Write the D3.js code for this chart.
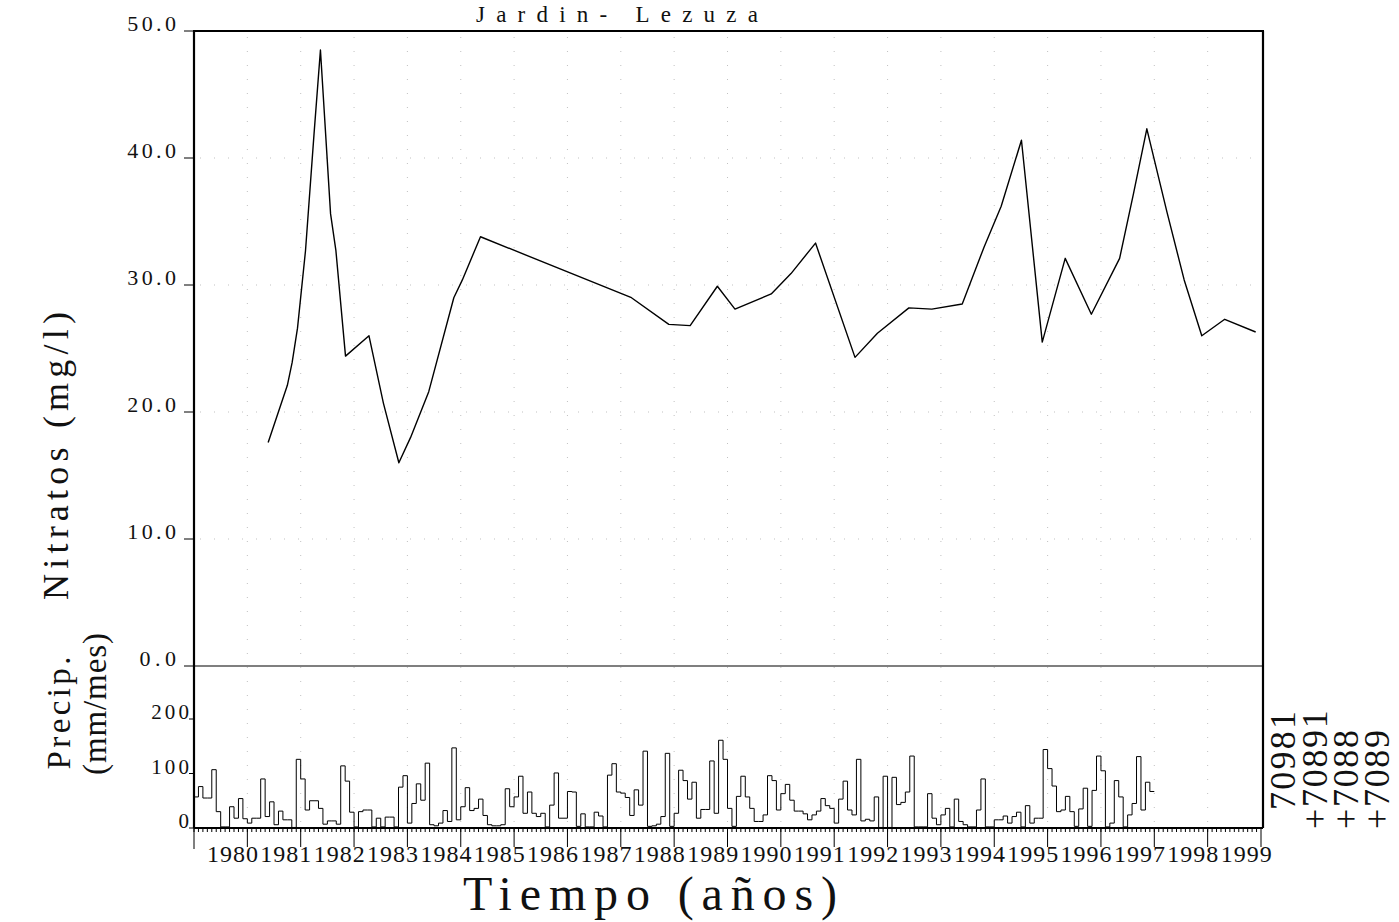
<!DOCTYPE html>
<html><head><meta charset="utf-8">
<script src="https://cdn.jsdelivr.net/npm/d3@7"></script>
<style>
body{margin:0;background:#fff}
svg{display:block}
text{font-family:"Liberation Serif","DejaVu Serif",serif;fill:#111}
</style>
</head><body>
<svg id="chart" width="1399" height="922"></svg>
<script>
// ---------- DATA ----------
const chartTitle = "Jardin- Lezuza";
const xTitle = "Tiempo (años)";
const yTitleNitrate = "Nitratos (mg/l)";
const yTitlePrecip1 = "Precip.";
const yTitlePrecip2 = "(mm/mes)";
const legendLabels = ["70981", "+70891", "+7088", "+7089"];

const yearLabels = [1980,1981,1982,1983,1984,1985,1986,1987,1988,1989,1990,1991,1992,1993,1994,1995,1996,1997,1998,1999];
const nitrateTicks = [0,10,20,30,40,50];
const precipTicks = [0,100,200];

// Nitrate samples (decimal year, mg/l)
const nitrateDates = [1981.39,1981.75,1981.84,1981.94,1982.09,1982.25,1982.37,1982.56,1982.66,1982.84,
  1983.28,1983.55,1983.84,1984.06,1984.40,1984.87,1985.03,1985.37,1988.20,1988.90,
  1989.30,1989.81,1990.14,1990.82,1991.19,1991.65,1992.39,1992.81,1993.40,1993.83,
  1994.40,1994.81,1995.13,1995.51,1995.90,1996.33,1996.82,1997.35,1997.61,1997.86,
  1998.24,1998.56,1998.89,1999.32,1999.90];
const nitrateValues = [17.6,22.1,23.9,26.6,32.7,41.9,48.5,35.6,32.7,24.4,
  26.0,20.7,16.0,18.0,21.6,29.0,30.4,33.8,29.0,26.9,
  26.8,29.9,28.1,29.3,30.9,33.3,24.3,26.2,28.2,28.1,
  28.5,33.0,36.2,41.4,25.5,32.1,27.7,32.1,37.2,42.3,
  35.7,30.4,26.0,27.3,26.3];

// Monthly precipitation (mm/mes), Jan..Dec, 1980..1997
const precip1980 = [57,76,55,55,107,30,2,2,39,18,54,17];
const precip1981 = [9,18,18,90,21,48,6,31,15,15,1,126];
const precip1982 = [90,33,50,50,36,7,13,13,7,114,86,29];
const precip1983 = [2,30,33,33,2,18,2,20,20,2,75,96];
const precip1984 = [9,45,81,51,119,6,4,9,32,12,147,15];
const precip1985 = [39,74,32,36,53,23,6,4,4,6,72,39];
const precip1986 = [57,95,27,66,27,21,27,2,42,101,18,18];
const precip1987 = [67,66,3,26,2,2,29,22,2,97,118,66];
const precip1988 = [64,56,23,70,42,141,3,4,7,21,137,3];
const precip1989 = [27,106,87,53,84,18,34,34,123,27,161,126];
const precip1990 = [36,3,58,95,57,36,12,12,24,96,87,33];
const precip1991 = [63,80,51,31,31,26,15,24,31,54,41,36];
const precip1992 = [9,53,86,33,24,126,13,16,13,57,1,95];
const precip1993 = [1,93,43,47,66,132,2,2,2,63,18,6];
const precip1994 = [24,36,2,53,12,6,2,2,33,90,2,2];
const precip1995 = [15,15,22,9,21,29,2,41,9,18,18,144];
const precip1996 = [109,77,30,33,58,30,3,35,73,3,69,132];
const precip1997 = [105,2,9,87,57,2,24,45,131,33,84,67];
const precipYears = [precip1980,precip1981,precip1982,precip1983,precip1984,precip1985,precip1986,
  precip1987,precip1988,precip1989,precip1990,precip1991,precip1992,precip1993,precip1994,
  precip1995,precip1996,precip1997];

// ---------- LAYOUT ----------
const L = 194, R = 1263, T = 31, B = 828, Z = 666;
const svg = d3.select("#chart");
const x = d3.scaleLinear().domain([1980, 2000]).range([L, 1261]);
const yN = d3.scaleLinear().domain([0, 50]).range([Z, T]);
const yP = d3.scaleLinear().domain([0, 200]).range([B, 719]);

// dotted grid
const grid = svg.append("g").attr("stroke", "#999").attr("stroke-width", 1)
  .attr("stroke-dasharray", "1,13").attr("opacity", 0.6);
d3.range(1981, 2000).forEach(yr => {
  grid.append("line").attr("x1", x(yr)).attr("x2", x(yr)).attr("y1", T + 6).attr("y2", B - 4);
});
[10, 20, 30, 40].forEach(v => {
  grid.append("line").attr("x1", L + 6).attr("x2", R - 4).attr("y1", yN(v)).attr("y2", yN(v));
});

// frame
const frame = svg.append("g").attr("stroke", "#000").attr("fill", "none");
frame.append("line").attr("x1", L - 1).attr("x2", R + 1).attr("y1", T).attr("y2", T).attr("stroke-width", 2.2);
frame.append("line").attr("x1", L).attr("x2", L).attr("y1", T).attr("y2", B).attr("stroke-width", 2.2);
frame.append("line").attr("x1", R).attr("x2", R).attr("y1", T).attr("y2", B).attr("stroke-width", 2.2);
frame.append("line").attr("x1", L).attr("x2", R).attr("y1", B).attr("y2", B).attr("stroke-width", 2.2);
frame.append("line").attr("x1", L).attr("x2", R).attr("y1", Z).attr("y2", Z).attr("stroke-width", 1.1);

// nitrate axis
const axN = svg.append("g");
nitrateTicks.forEach(v => {
  axN.append("line").attr("x1", L - 10).attr("x2", L).attr("y1", yN(v)).attr("y2", yN(v))
    .attr("stroke", "#000").attr("stroke-width", 1);
  const s = v.toFixed(1);
  axN.append("text").attr("x", 176).attr("y", yN(v)).attr("text-anchor", "end")
    .attr("font-size", 22).attr("textLength", s.length * 12.2).attr("lengthAdjust", "spacing").text(s);
});

// precip axis
const axP = svg.append("g");
precipTicks.forEach(v => {
  axP.append("line").attr("x1", L - 5).attr("x2", L).attr("y1", yP(v)).attr("y2", yP(v))
    .attr("stroke", "#000").attr("stroke-width", 1);
  const s = String(v);
  axP.append("text").attr("x", 189).attr("y", yP(v)).attr("text-anchor", "end")
    .attr("font-size", 21).attr("textLength", s.length * 12.6).attr("lengthAdjust", "spacing").text(s);
});

// x axis ticks
const axX = svg.append("g").attr("stroke", "#000");
d3.range(0, 240).forEach(m => {
  const xv = x(1980 + m / 12);
  axX.append("line").attr("x1", xv).attr("x2", xv).attr("y1", B).attr("y2", B + 4).attr("stroke-width", 1);
});
d3.range(1980, 2001).forEach(yr => {
  axX.append("line").attr("x1", x(yr)).attr("x2", x(yr)).attr("y1", B)
    .attr("y2", yr === 1980 ? B + 21 : B + 19).attr("stroke-width", 1);
});
yearLabels.forEach(yr => {
  svg.append("text").attr("x", x(yr) + 13).attr("y", 862).attr("font-size", 24)
    .attr("textLength", 51).attr("lengthAdjust", "spacing").text(yr);
});

// precipitation step line
const precipAll = precipYears.flat();
const pPts = [[1980, 0]];
precipAll.forEach((v, i) => pPts.push([1980 + i / 12, v]));
pPts.push([1980 + precipAll.length / 12, precipAll[precipAll.length - 1]]);
svg.append("path").attr("d", d3.line().x(d => x(d[0])).y(d => yP(d[1])).curve(d3.curveStepAfter)(pPts))
  .attr("fill", "none").attr("stroke", "#000").attr("stroke-width", 1);

// nitrate line
const nPts = nitrateDates.map((d, i) => [d, nitrateValues[i]]);
svg.append("path").attr("d", d3.line().x(d => x(d[0])).y(d => yN(d[1]))(nPts))
  .attr("fill", "none").attr("stroke", "#000").attr("stroke-width", 1.4).attr("stroke-linejoin", "round");

// titles
svg.append("text").attr("x", 476).attr("y", 22).attr("font-size", 23)
  .attr("textLength", 282).attr("lengthAdjust", "spacing").text(chartTitle);
svg.append("text").attr("x", 463).attr("y", 910).attr("font-size", 48)
  .attr("textLength", 374).attr("lengthAdjust", "spacing").text(xTitle);
svg.append("text").attr("transform", "translate(68,456) rotate(-90)").attr("text-anchor", "middle")
  .attr("font-size", 36).attr("textLength", 288).attr("lengthAdjust", "spacing").text(yTitleNitrate);
svg.append("text").attr("transform", "translate(70,713) rotate(-90)").attr("text-anchor", "middle")
  .attr("font-size", 33).attr("textLength", 113).attr("lengthAdjust", "spacing").text(yTitlePrecip1);
svg.append("text").attr("transform", "translate(106,704) rotate(-90)").attr("text-anchor", "middle")
  .attr("font-size", 33).attr("textLength", 142).attr("lengthAdjust", "spacing").text(yTitlePrecip2);

// right-side series labels
const legX = [1295, 1327, 1358, 1389];
const legStart = [810, 829, 829, 829];
legendLabels.forEach((s, i) => {
  svg.append("text").attr("transform", `translate(${legX[i]},${legStart[i]}) rotate(-90)`)
    .attr("font-size", 36).attr("textLength", s.length * 19.8).attr("lengthAdjust", "spacing").text(s);
});
</script>
</body></html>
